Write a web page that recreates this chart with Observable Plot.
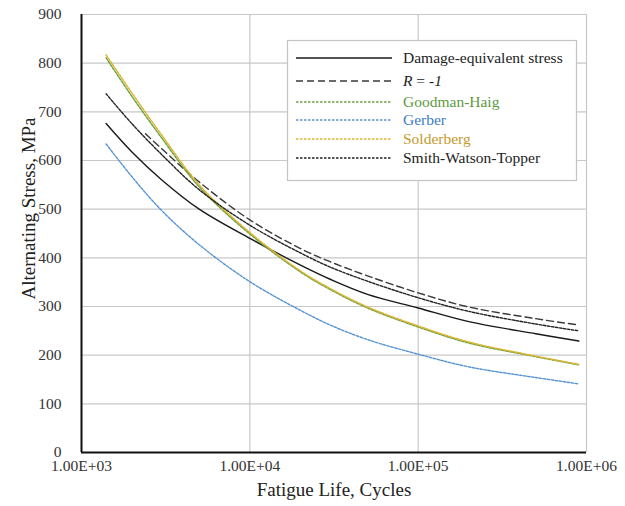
<!DOCTYPE html>
<html>
<head>
<meta charset="utf-8">
<script src="https://cdn.jsdelivr.net/npm/d3@7"></script>
<script src="https://cdn.jsdelivr.net/npm/@observablehq/plot@0.6"></script>
<style>
  body { margin: 0; background: #fff; }
  #chart { width: 625px; height: 506px; }
</style>
</head>
<body>
<div id="chart"></div>
<script>
// Fatigue life (cycles) at which each curve is sampled
const cycles = [1400, 2000, 3000, 5000, 10000, 20000, 30000, 50000, 100000, 200000, 500000, 900000];
const cyclesR = [2400, 3000, 5000, 10000, 20000, 30000, 50000, 100000, 200000, 500000, 900000];

// Alternating stress, MPa
const damageEquivalent  = [676, 617, 560, 500, 440, 385, 356, 325, 297, 269, 244, 229];
const rMinusOne         = [655, 624, 556, 478, 419, 392, 363, 328, 299, 275, 262];
const goodmanHaig       = [811, 731, 646, 546, 449, 371, 335, 297, 258, 225, 197, 180];
const gerber            = [634, 566, 497, 427, 351, 292, 262, 232, 202, 176, 154, 141];
const solderberg        = [817, 738, 652, 550, 452, 373, 337, 299, 260, 227, 198, 181];
const smithWatsonTopper = [737, 675, 612, 540, 467, 410, 381, 352, 318, 290, 264, 250];

// Axes
const xTicks = [1e3, 1e4, 1e5, 1e6];
const xTickLabels = ["1.00E+03", "1.00E+04", "1.00E+05", "1.00E+06"];
const yTicks = [0, 100, 200, 300, 400, 500, 600, 700, 800, 900];
const xTitle = "Fatigue Life, Cycles";
const yTitle = "Alternating Stress, MPa";

// Series styling and legend entries
const series = [
  {name: "Damage-equivalent stress", x: cycles,  y: damageEquivalent,  stroke: "#1a1a1a", dash: null,      width: 1.4, text: "#222"},
  {name: "R = -1",                   x: cyclesR, y: rMinusOne,         stroke: "#3a3a3a", dash: "7,4",     width: 1.4, text: "#222"},
  {name: "Goodman-Haig",             x: cycles,  y: goodmanHaig,       stroke: "#6fa344", dash: "2.5,1.5", width: 1.5, text: "#5e9a3e"},
  {name: "Gerber",                   x: cycles,  y: gerber,            stroke: "#5693d0", dash: "2.5,1.5", width: 1.4, text: "#3d7cc4"},
  {name: "Solderberg",               x: cycles,  y: solderberg,        stroke: "#dcb530", dash: "2.5,1.5", width: 1.5, text: "#c49a2a"},
  {name: "Smith-Watson-Topper",      x: cycles,  y: smithWatsonTopper, stroke: "#222",    dash: "2.5,1.5", width: 1.4, text: "#222"}
];

const font = "'Liberation Serif', 'Times New Roman', serif";

const lineMarks = series.map(s =>
  Plot.line(s.x.map((n, i) => ({n, stress: s.y[i]})), {
    x: "n", y: "stress",
    stroke: s.stroke, strokeWidth: s.width,
    strokeDasharray: s.dash, curve: "catmull-rom"
  })
);

const chart = Plot.plot({
  width: 625,
  height: 506,
  marginLeft: 81,
  marginRight: 39,
  marginTop: 14,
  marginBottom: 54,
  style: {fontFamily: font, fontSize: "15.5px", color: "#333", background: "#fff"},
  x: {type: "log", domain: [1e3, 1e6]},
  y: {domain: [0, 900]},
  marks: [
    Plot.gridX(xTicks, {stroke: "#c8c8c8", strokeOpacity: 1, strokeWidth: 1.2}),
    Plot.gridY(yTicks, {stroke: "#c8c8c8", strokeOpacity: 1, strokeWidth: 1.2}),
    Plot.axisX(xTicks, {tickSize: 0, tickPadding: 7, label: null,
      tickFormat: d => xTickLabels[xTicks.indexOf(d)]}),
    Plot.axisY(yTicks, {tickSize: 0, tickPadding: 20, label: null}),
    ...lineMarks,
    Plot.ruleX([1e3], {stroke: "#111", strokeWidth: 2}),
    Plot.ruleY([0], {stroke: "#111", strokeWidth: 2}),
    Plot.text([xTitle], {frameAnchor: "bottom", dy: 43, fontSize: 19, fill: "#222"}),
    Plot.text([yTitle], {frameAnchor: "left", textAnchor: "middle", rotate: -90,
      dx: -53, dy: -25, fontSize: 19, fill: "#222"})
  ]
});

// Legend box drawn inside the plot area
const svg = d3.select(chart);
const legend = svg.append("g")
  .attr("font-family", font)
  .attr("font-size", "15.5px")
  .attr("text-anchor", "start");
legend.append("rect")
  .attr("x", 287.5).attr("y", 40.5).attr("width", 289).attr("height", 140)
  .attr("fill", "#fff").attr("stroke", "#c4c4c4").attr("stroke-width", 1.2);
const rowY = [58, 81, 102, 120, 139, 158];
series.forEach((s, i) => {
  legend.append("line")
    .attr("x1", 296).attr("x2", 392).attr("y1", rowY[i]).attr("y2", rowY[i])
    .attr("stroke", s.stroke).attr("stroke-width", s.width)
    .attr("stroke-dasharray", s.dash);
  const t = legend.append("text")
    .attr("x", 403).attr("y", rowY[i]).attr("dy", "0.35em").attr("fill", s.text);
  if (s.name === "R = -1") {
    t.append("tspan").attr("font-style", "italic").text("R");
    t.append("tspan").text(" = -");
    t.append("tspan").attr("font-style", "italic").text("1");
  } else {
    t.text(s.name);
  }
});

document.getElementById("chart").appendChild(chart);
</script>
</body>
</html>
